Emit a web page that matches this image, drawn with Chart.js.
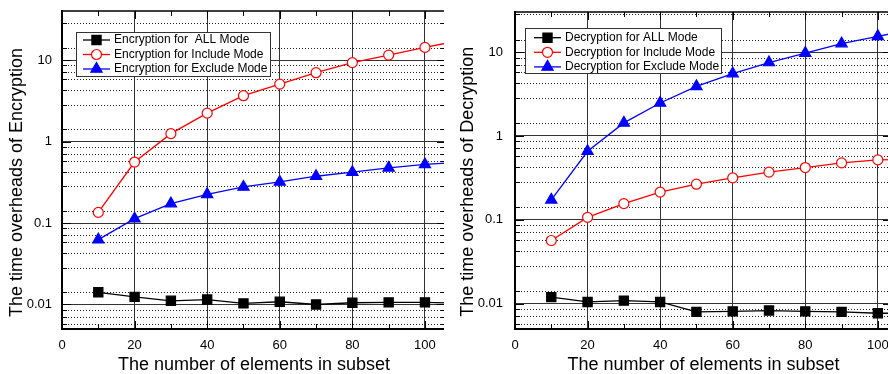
<!DOCTYPE html>
<html>
<head>
<meta charset="utf-8">
<script src="https://cdn.jsdelivr.net/npm/chart.js@4/dist/chart.umd.min.js"></script>
<style>
  html, body { margin: 0; padding: 0; background: #fff; overflow: hidden; }
  .pane { position: absolute; top: 0; height: 374px; overflow: hidden; }
</style>
</head>
<body>
<div class="pane" style="left:0;width:444px"><canvas id="enc" width="446" height="374"></canvas></div>
<div class="pane" style="left:444px;width:444px"><canvas id="dec" width="448" height="374"></canvas></div>
<script>
const FONT = "'Liberation Sans', Arial, sans-serif";

// subset sizes (last point only carries the line past the clipped right edge)
const X_VALUES = [10, 20, 30, 40, 50, 60, 70, 80, 90, 100, 110];

const ENC_ALL = [0.0141, 0.0124, 0.0111, 0.0115, 0.0103, 0.0108, 0.0100, 0.0105, 0.0106, 0.0106, 0.0104];
const ENC_INCLUDE = [0.135, 0.56, 1.25, 2.23, 3.65, 5.07, 7.0, 9.3, 11.5, 14.3, 17.5];
const ENC_EXCLUDE = [0.0625, 0.113, 0.173, 0.225, 0.277, 0.319, 0.375, 0.42, 0.475, 0.523, 0.56];

const DEC_ALL = [0.0120, 0.0105, 0.0109, 0.0105, 0.0080, 0.0081, 0.0083, 0.0081, 0.0080, 0.0077, 0.0077];
const DEC_INCLUDE = [0.0567, 0.107, 0.156, 0.214, 0.266, 0.316, 0.37, 0.42, 0.477, 0.518, 0.53];
const DEC_EXCLUDE = [0.173, 0.657, 1.43, 2.47, 3.9, 5.53, 7.5, 9.7, 12.6, 15.4, 18.8];

const X_TICKS = [0, 20, 40, 60, 80, 100];
const X_MINOR = [10, 30, 50, 70, 90];
const Y_TICKS = [0.01, 0.1, 1, 10];
const Y_MINOR_STEPS = [1.41, 2.83, 4.24, 5.8, 7.1, 8.6];

const ALL_STYLE = { color: "#000", fill: "#000", pointStyle: "rect", radius: 6.5 };
const INC_STYLE = { color: "#ff0000", fill: "#fff", pointStyle: "circle", radius: 5 };
const EXC_STYLE = { color: "#0000ff", fill: "#0000ff", pointStyle: "triangle", radius: 6.5 };

function series(label, values, st) {
  return {
    label,
    data: X_VALUES.map((x, i) => ({ x, y: values[i] })),
    borderColor: st.color,
    backgroundColor: st.fill,
    borderWidth: 1.3,
    pointStyle: st.pointStyle,
    pointRadius: st.radius,
    pointHoverRadius: st.radius,
    pointBorderWidth: 1.2,
    pointBorderColor: st.color,
    pointBackgroundColor: st.fill,
    tension: 0,
    fill: false,
  };
}

function drawMarker(ctx, ds, x, y) {
  const r = ds.pointRadius;
  ctx.save();
  ctx.setLineDash([]);
  ctx.lineWidth = ds.pointBorderWidth;
  ctx.strokeStyle = ds.pointBorderColor;
  ctx.fillStyle = ds.pointBackgroundColor;
  ctx.beginPath();
  if (ds.pointStyle === "rect") {
    const s = r * Math.SQRT1_2;
    ctx.rect(x - s, y - s, 2 * s, 2 * s);
  } else if (ds.pointStyle === "circle") {
    ctx.arc(x, y, r, 0, Math.PI * 2);
  } else {
    ctx.moveTo(x, y - r);
    ctx.lineTo(x + r * 0.866, y + r / 2);
    ctx.lineTo(x - r * 0.866, y + r / 2);
    ctx.closePath();
  }
  ctx.fill();
  ctx.stroke();
  ctx.restore();
}

const framePlugin = {
  id: "frame",
  beforeDatasetsDraw(chart) {
    const { ctx, chartArea: a, scales: { y } } = chart;
    ctx.save();
    ctx.strokeStyle = "#222";
    ctx.lineWidth = 1;
    ctx.setLineDash([1, 2]);
    for (let p = -3; p <= 1; p++) {
      for (const m of Y_MINOR_STEPS) {
        const v = m * Math.pow(10, p);
        if (v <= y.min || v >= y.max) continue;
        const py = Math.round(y.getPixelForValue(v)) + 0.5;
        ctx.beginPath();
        ctx.moveTo(a.left, py);
        ctx.lineTo(a.right, py);
        ctx.stroke();
      }
    }
    ctx.restore();
  },
  afterDatasetsDraw(chart, args, opts) {
    const { ctx, chartArea: a, scales: { x, y } } = chart;
    ctx.save();
    ctx.strokeStyle = "#000";
    ctx.setLineDash([]);

    // top and right border
    ctx.beginPath();
    ctx.lineWidth = 1.5;
    ctx.moveTo(a.left, a.top);
    ctx.lineTo(a.right, a.top);
    ctx.lineTo(a.right, a.bottom);
    ctx.stroke();
    ctx.lineWidth = 1;

    // inward ticks, y
    const yt = [];
    Y_TICKS.forEach((v) => yt.push([v, 9]));
    for (let p = -3; p <= 1; p++) Y_MINOR_STEPS.forEach((m) => yt.push([m * Math.pow(10, p), 5]));
    ctx.beginPath();
    yt.forEach(([v, len]) => {
      if (v <= y.min || v >= y.max) return;
      const py = Math.round(y.getPixelForValue(v)) + 0.5;
      ctx.moveTo(a.left, py);
      ctx.lineTo(a.left + len, py);
      ctx.moveTo(a.right, py);
      ctx.lineTo(a.right - len, py);
    });
    // inward ticks, x
    const xt = X_TICKS.map((v) => [v, 8]).concat(X_MINOR.map((v) => [v, 5]));
    xt.forEach(([v, len]) => {
      const px = Math.round(x.getPixelForValue(v)) + 0.5;
      ctx.moveTo(px, a.bottom);
      ctx.lineTo(px, a.bottom - len);
      ctx.moveTo(px, a.top);
      ctx.lineTo(px, a.top + len);
    });
    ctx.stroke();

    // legend box
    const L = opts.legend;
    ctx.fillStyle = "#fff";
    ctx.fillRect(L.left, L.top, L.width, L.height);
    ctx.strokeStyle = "#333";
    ctx.strokeRect(L.left + 0.5, L.top + 0.5, L.width, L.height);
    ctx.font = "12px " + FONT;
    ctx.textBaseline = "middle";
    ctx.textAlign = "left";
    chart.data.datasets.forEach((ds, i) => {
      const ry = L.firstRow + i * L.rowStep;
      ctx.strokeStyle = ds.borderColor;
      ctx.lineWidth = 1.3;
      ctx.beginPath();
      ctx.moveTo(L.lineFrom, ry);
      ctx.lineTo(L.lineTo, ry);
      ctx.stroke();
      drawMarker(ctx, ds, (L.lineFrom + L.lineTo) / 2, ry);
      ctx.fillStyle = "#000";
      ctx.fillText(ds.label, L.textX, ry);
    });

    // y axis title
    const T = opts.yTitle;
    ctx.translate(T.x, T.y);
    ctx.rotate(-Math.PI / 2);
    ctx.font = "18px " + FONT;
    ctx.textAlign = "center";
    ctx.fillStyle = "#000";
    ctx.fillText(T.text, 0, 0);
    ctx.restore();
  },
};

function noPad(s) {
  s.paddingTop = 0;
  s.paddingBottom = 0;
  s.paddingLeft = 0;
  s.paddingRight = 0;
}

function makeChart(id, cfg) {
  return new Chart(document.getElementById(id), {
    type: "line",
    data: { datasets: cfg.datasets },
    plugins: [framePlugin],
    options: {
      responsive: false,
      animation: false,
      devicePixelRatio: 1,
      layout: { autoPadding: false, padding: { top: cfg.top, left: 0, right: 0, bottom: 0 } },
      plugins: {
        legend: { display: false },
        tooltip: { enabled: false },
        frame: { legend: cfg.legend, yTitle: cfg.yTitle },
      },
      scales: {
        x: {
          type: "linear",
          min: 0,
          max: cfg.xMax,
          afterBuildTicks: (s) => { s.ticks = X_TICKS.map((value) => ({ value })); },
          afterFit: (s) => { s.height = 45; noPad(s); },
          grid: { color: "#333", lineWidth: 1, drawTicks: false },
          border: { color: "#000", width: 2 },
          ticks: { color: "#000", padding: 9, maxRotation: 0, autoSkip: false, font: { size: 13, family: FONT } },
          title: {
            display: true,
            text: "The number of elements in subset",
            color: "#000",
            font: { size: 18, family: FONT, lineHeight: 1 },
            padding: { top: 0, bottom: 0 },
          },
        },
        y: {
          type: "logarithmic",
          min: 0.005,
          max: cfg.yMax,
          afterBuildTicks: (s) => { s.ticks = Y_TICKS.map((value) => ({ value })); },
          afterFit: (s) => { s.width = cfg.yWidth; noPad(s); },
          grid: { color: "#333", lineWidth: 1, drawTicks: false },
          border: { color: "#000", width: 2 },
          ticks: {
            color: "#000",
            padding: cfg.yTickPad,
            font: { size: 13, family: FONT },
            callback: (v) => String(v),
          },
          title: { display: false },
        },
      },
    },
  });
}

makeChart("enc", {
  datasets: [
    series("Encryption for  ALL Mode", ENC_ALL, ALL_STYLE),
    series("Encryption for Include Mode", ENC_INCLUDE, INC_STYLE),
    series("Encryption for Exclude Mode", ENC_EXCLUDE, EXC_STYLE),
  ],
  top: 11,
  xMax: 105.8,
  yMax: 40,
  yWidth: 62,
  yTickPad: 10,
  yTitle: { text: "The time overheads of Encryption", x: 17.5, y: 182.5 },
  legend: { left: 76, top: 32, width: 194, height: 44, firstRow: 40, rowStep: 14.5, lineFrom: 83, lineTo: 110, textX: 114 },
});

makeChart("dec", {
  datasets: [
    series("Decryption for ALL Mode", DEC_ALL, ALL_STYLE),
    series("Decryption for Include Mode", DEC_INCLUDE, INC_STYLE),
    series("Decryption for Exclude Mode", DEC_EXCLUDE, EXC_STYLE),
  ],
  top: 12,
  xMax: 103.9,
  yMax: 30,
  yWidth: 71,
  yTickPad: 12,
  yTitle: { text: "The time overheads of Decryption", x: 24, y: 181.7 },
  legend: { left: 81, top: 28, width: 196, height: 45, firstRow: 37.7, rowStep: 14.6, lineFrom: 90, lineTo: 117, textX: 121 },
});
</script>
</body>
</html>
